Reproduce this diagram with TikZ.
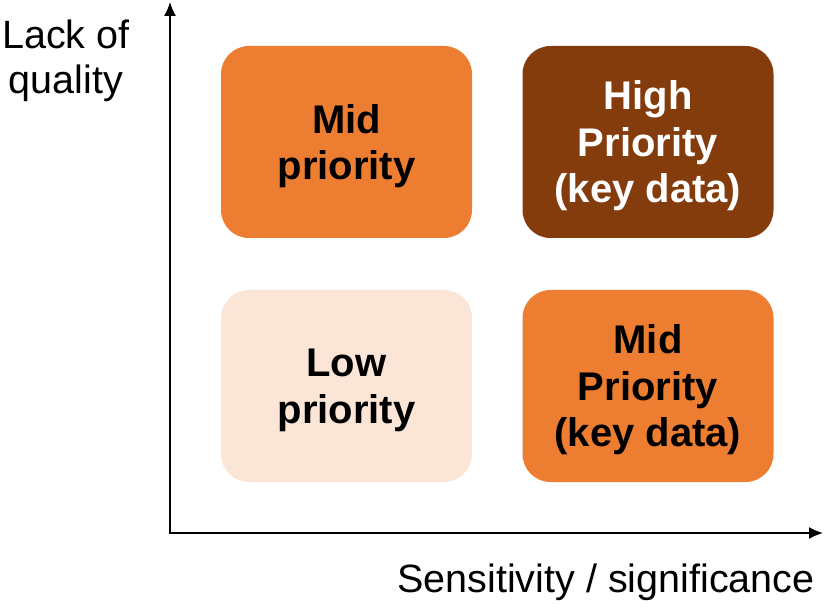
\documentclass[tikz,border=0pt]{standalone}
\usepackage{fontspec}
\setmainfont{Liberation Sans}
\usetikzlibrary{arrows.meta}
\definecolor{MidOrange}{HTML}{ED7D31}
\definecolor{HighBrown}{HTML}{843C0C}
\definecolor{LowPeach}{HTML}{FBE5D6}
\tikzstyle{PrioNode}=[rectangle, rounded corners=28pt, minimum width=251pt, minimum height=192pt, align=center, text depth=-2pt, font=\bfseries\fontsize{40}{46.5}\selectfont]
\tikzstyle{MidNode}=[PrioNode, fill=MidOrange]
\tikzstyle{HighNode}=[PrioNode, fill=HighBrown, text=white]
\tikzstyle{LowNode}=[PrioNode, fill=LowPeach]
\tikzstyle{AxisLabel}=[align=center, font=\fontsize{39.5}{45}\selectfont]
\tikzstyle{AxisEdge}=[<->, line width=1.6pt]
\tikzset{>={Latex[length=14pt,width=12pt]}}
\begin{document}
\begin{tikzpicture}[x=1pt, y=-1pt]
\useasboundingbox (0,0) rectangle (827,609);
\coordinate(Origin) at (170,533);
\coordinate(YEnd) at (170,2);
\coordinate(XEnd) at (823,533);

\node[MidNode](MidL) at (346.5,142) {Mid\\priority};
\node[HighNode](High) at (648,142) {High\\Priority\\(key data)};
\node[LowNode](Low) at (346.5,386) {Low\\priority};
\node[MidNode](MidR) at (648,386) {Mid\\Priority\\(key data)};

\draw[AxisEdge](YEnd) -- (Origin) -- (XEnd);

\node[AxisLabel](YLabel) at (66,61) {Lack of\\quality};
\node[AxisLabel](XLabel) at (606,582) {Sensitivity / significance};
\end{tikzpicture}
\end{document}
